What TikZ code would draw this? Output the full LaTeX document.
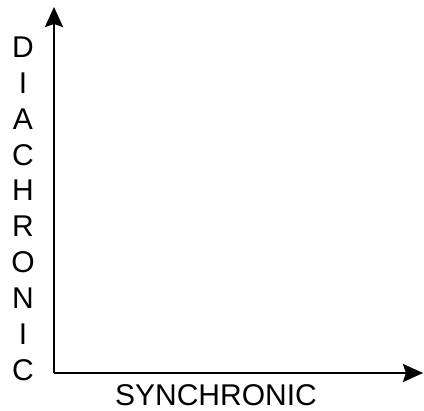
\documentclass[tikz,border=0pt]{standalone}
\usepackage{fontspec}
\setmainfont{Liberation Sans}
\usetikzlibrary{arrows.meta}
\tikzset{
  axis/.style={line width=2.8pt, -{Stealth[length=20pt, width=18pt, inset=3pt]}},
  letter/.style={font=\fontsize{30}{30}\selectfont, inner sep=0pt, anchor=center},
  axislabel/.style={font=\fontsize{30}{30}\selectfont, inner sep=0pt, anchor=center}
}
\begin{document}
\begin{tikzpicture}[x=1pt,y=-1pt]
\useasboundingbox (0,0) rectangle (424,411);
\coordinate (o) at (54,373);
\coordinate (ytip) at (54,7);
\coordinate (xtip) at (423,373);
\draw[axis] (o) -- (ytip);
\draw[axis] (o) -- (xtip);
\foreach \l [count=\i from 0] in {D,I,A,C,H,R,O,N,I,C}{
  \node[letter] (l\i) at (23,{47+35.9*\i}) {\l};
}
\node[axislabel] (syn) at (216,395) {SYNCHRONIC};
\end{tikzpicture}
\end{document}
